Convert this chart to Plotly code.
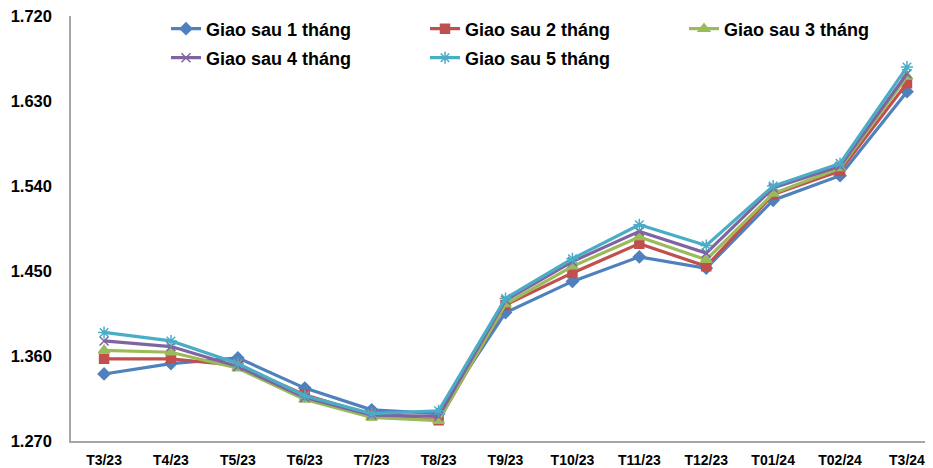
import plotly.graph_objects as go

categories = ["T3/23", "T4/23", "T5/23", "T6/23", "T7/23", "T8/23", "T9/23",
              "T10/23", "T11/23", "T12/23", "T01/24", "T02/24", "T3/24"]

giao_sau_1 = [1.341, 1.352, 1.358, 1.326, 1.303, 1.299, 1.406, 1.439, 1.465, 1.453, 1.525, 1.551, 1.640]
giao_sau_2 = [1.357, 1.357, 1.350, 1.319, 1.2975, 1.292, 1.414, 1.448, 1.479, 1.455, 1.531, 1.556, 1.649]
giao_sau_3 = [1.366, 1.364, 1.347, 1.314, 1.295, 1.2915, 1.415, 1.455, 1.486, 1.462, 1.532, 1.559, 1.656]
giao_sau_4 = [1.376, 1.370, 1.349, 1.316, 1.2975, 1.296, 1.419, 1.460, 1.492, 1.469, 1.538, 1.561, 1.659]
giao_sau_5 = [1.385, 1.376, 1.352, 1.318, 1.299, 1.302, 1.421, 1.463, 1.499, 1.477, 1.540, 1.564, 1.666]

series_names = ["Giao sau 1 tháng", "Giao sau 2 tháng", "Giao sau 3 tháng",
                "Giao sau 4 tháng", "Giao sau 5 tháng"]

y_ticks = [1.270, 1.360, 1.450, 1.540, 1.630, 1.720]
y_ticktext = ["1.270", "1.360", "1.450", "1.540", "1.630", "1.720"]

FONT = "Arial, Liberation Sans, sans-serif"

styles = [
    dict(color="#4F81BD", symbol="diamond", size=9, legend="legend"),
    dict(color="#C0504D", symbol="square", size=9, legend="legend"),
    dict(color="#9BBB59", symbol="triangle-up", size=10, legend="legend"),
    dict(color="#8064A2", symbol="x-thin-open", size=9, legend="legend2"),
    dict(color="#4BACC6", symbol="asterisk-open", size=10, legend="legend2"),
]

fig = go.Figure()
for name, vals, st in zip(series_names,
                          [giao_sau_1, giao_sau_2, giao_sau_3, giao_sau_4, giao_sau_5],
                          styles):
    fig.add_trace(go.Scatter(
        x=list(range(len(categories))), y=vals, name=name,
        mode="lines+markers",
        line=dict(color=st["color"], width=3.2),
        marker=dict(symbol=st["symbol"], size=st["size"], color=st["color"],
                    line=dict(color=st["color"], width=1.5)),
        legend=st["legend"],
    ))

legend_common = dict(
    orientation="h", xref="paper", yref="paper",
    xanchor="left", yanchor="middle",
    font=dict(family=FONT, size=18, color="#000000", weight="bold"),
    entrywidth=214, entrywidthmode="pixels",
    bgcolor="rgba(0,0,0,0)", tracegroupgap=0, itemwidth=30,
)

# page body adds an 8px offset, so the figure is 8px smaller than the window
fig.update_layout(
    width=925, height=460,
    margin=dict(l=63, r=0, t=8, b=27, autoexpand=False),
    paper_bgcolor="white", plot_bgcolor="white",
    font=dict(family=FONT, size=14, color="#000000"),
    showlegend=True,
    legend=dict(x=95 / 862, y=1 - 13 / 425, **legend_common),
    legend2=dict(x=95 / 862, y=1 - 42 / 425, **legend_common),
    xaxis=dict(
        tickmode="array", tickvals=list(range(len(categories))), ticktext=categories,
        range=[-0.494, 12.389],
        showgrid=False, zeroline=False,
        showline=True, linecolor="#A6A6A6", linewidth=1.5,
        ticks="", ticklabelstandoff=5, ticklabeloverflow="allow",
        tickfont=dict(family=FONT, size=14, color="#000000", weight="bold"),
    ),
    yaxis=dict(
        tickmode="array", tickvals=y_ticks, ticktext=y_ticktext,
        range=[1.270, 1.7201],
        showgrid=False, zeroline=False,
        showline=True, linecolor="#A6A6A6", linewidth=1.5,
        ticks="", ticklabelstandoff=14, ticklabeloverflow="allow",
        tickfont=dict(family=FONT, size=16.5, color="#000000", weight="bold"),
    ),
)

fig.write_html("out.html")
